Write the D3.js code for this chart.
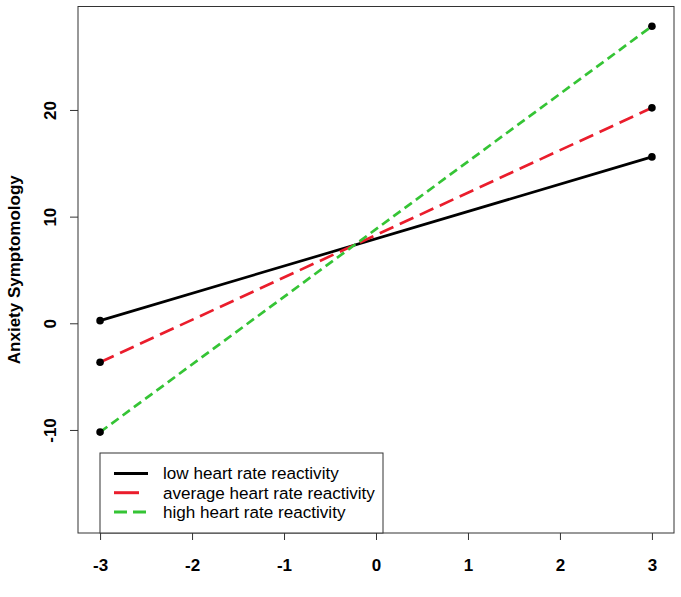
<!DOCTYPE html>
<html>
<head>
<meta charset="utf-8">
<script src="https://cdn.jsdelivr.net/npm/d3@7"></script>
<style>
  html, body { margin: 0; padding: 0; background: #fff; }
  svg { display: block; font-family: "Liberation Sans", Arial, sans-serif; }
</style>
</head>
<body>
<svg id="chart" width="681" height="597"></svg>
<script>
// ---- data ----
const xValues = [-3, 3];
const seriesNames = ["low heart rate reactivity", "average heart rate reactivity", "high heart rate reactivity"];
const lowValues = [0.25, 15.6];
const averageValues = [-3.65, 20.2];
const highValues = [-10.2, 27.85];
const xTicks = [-3, -2, -1, 0, 1, 2, 3];
const yTicks = [-10, 0, 10, 20];
const yAxisTitle = "Anxiety Symptomology";

const series = [
  { name: seriesNames[0], values: lowValues, color: "#000000", dash: null, legendDash: null },
  { name: seriesNames[1], values: averageValues, color: "#EA1D2C", dash: "15,7", legendDash: "25,10" },
  { name: seriesNames[2], values: highValues, color: "#35C435", dash: "9,5", legendDash: "13,6" }
];

// ---- layout ----
const svg = d3.select("#chart");
const plot = { left: 78, right: 674, top: 6.5, bottom: 533 };

const x = d3.scaleLinear().domain([-3.24, 3.24]).range([plot.left, plot.right]);
const y = d3.scaleLinear().domain([-19.66, 29.7]).range([plot.bottom, plot.top]);

const fmt = d => String(d); // ASCII hyphen-minus like the reference

// lines
const line = d3.line().x(d => x(d[0])).y(d => y(d[1]));
series.forEach(s => {
  const pts = xValues.map((xv, i) => [xv, s.values[i]]);
  svg.append("path")
    .attr("d", line(pts))
    .attr("fill", "none")
    .attr("stroke", s.color)
    .attr("stroke-width", 2.7)
    .attr("stroke-dasharray", s.dash);
});

// points
series.forEach(s => {
  svg.selectAll(null)
    .data(xValues.map((xv, i) => [xv, s.values[i]]))
    .enter().append("circle")
    .attr("cx", d => x(d[0]))
    .attr("cy", d => y(d[1]))
    .attr("r", 3.8)
    .attr("fill", "#000");
});

// box
svg.append("rect")
  .attr("x", plot.left).attr("y", plot.top)
  .attr("width", plot.right - plot.left).attr("height", plot.bottom - plot.top)
  .attr("fill", "none").attr("stroke", "#333").attr("stroke-width", 1);

// x axis
const xAxis = d3.axisBottom(x).tickValues(xTicks).tickSize(7).tickPadding(19)
  .tickFormat(fmt);
const gx = svg.append("g").attr("transform", `translate(0,${plot.bottom})`).call(xAxis);
gx.select(".domain").remove();
gx.selectAll(".tick line").attr("stroke", "#333");
gx.selectAll(".tick text").attr("font-size", 17).attr("font-weight", "bold")
  .attr("fill", "#000").attr("font-family", "Liberation Sans, Arial, sans-serif");

// y axis
const yAxis = d3.axisLeft(y).tickValues(yTicks).tickSize(8).tickPadding(0)
  .tickFormat(fmt);
const gy = svg.append("g").attr("transform", `translate(${plot.left},0)`).call(yAxis);
gy.select(".domain").remove();
gy.selectAll(".tick line").attr("stroke", "#333");
gy.selectAll(".tick text")
  .attr("x", null).attr("dy", null)
  .attr("text-anchor", "middle")
  .attr("transform", "translate(-22,0) rotate(-90)")
  .attr("font-size", 17).attr("font-weight", "bold")
  .attr("fill", "#000").attr("font-family", "Liberation Sans, Arial, sans-serif");

// y title
svg.append("text")
  .attr("transform", `translate(20,${(plot.top + plot.bottom) / 2}) rotate(-90)`)
  .attr("text-anchor", "middle")
  .attr("font-size", 17).attr("font-weight", "bold")
  .text(yAxisTitle);

// legend
const lg = { x: 100, y: 453, w: 283, h: 80 };
svg.append("rect")
  .attr("x", lg.x).attr("y", lg.y).attr("width", lg.w).attr("height", lg.h)
  .attr("fill", "#fff").attr("stroke", "#333").attr("stroke-width", 1);
series.forEach((s, i) => {
  const ry = lg.y + 20.5 + i * 19.2;
  svg.append("line")
    .attr("x1", lg.x + 14).attr("x2", lg.x + 48)
    .attr("y1", ry).attr("y2", ry)
    .attr("stroke", s.color).attr("stroke-width", 3)
    .attr("stroke-dasharray", s.legendDash);
  svg.append("text")
    .attr("x", lg.x + 63).attr("y", ry)
    .attr("dy", "0.35em")
    .attr("font-size", 17.1)
    .text(s.name);
});
</script>
</body>
</html>
